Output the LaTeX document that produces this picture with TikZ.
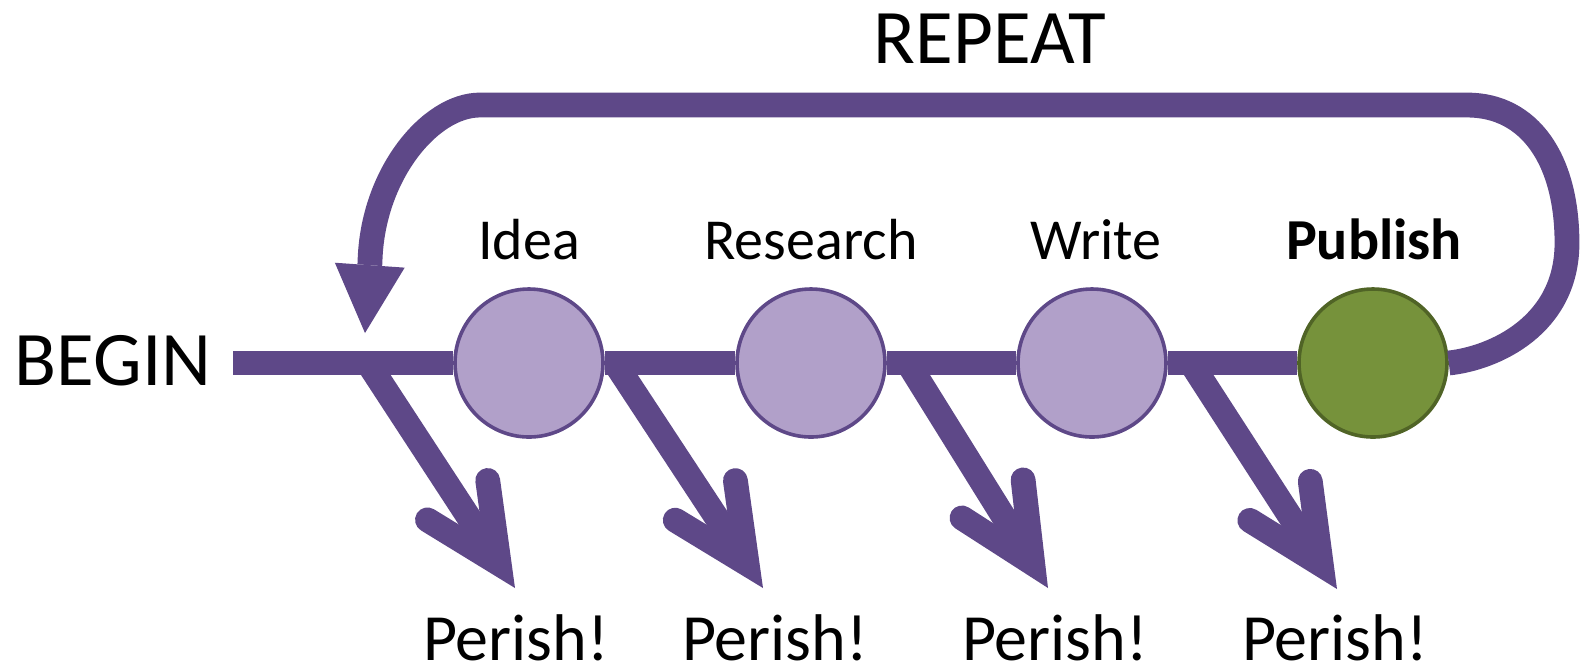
\documentclass[tikz,border=0pt]{standalone}
\usepackage{fontspec}
\setmainfont{Carlito}
\usetikzlibrary{arrows.meta}

\definecolor{flowpurple}{RGB}{94,72,136}
\definecolor{stagelilac}{RGB}{177,160,201}
\definecolor{pubgreen}{RGB}{118,146,59}
\definecolor{pubgreenedge}{RGB}{80,100,38}

\tikzset{every picture/.style={line width=0.75pt},
  flow/.style={draw=flowpurple,line width=6.2pt},
  perish arrow/.style={flow,-{Straight Barb[length=19pt,width=18pt,line cap=round,line join=miter]}},
  repeat arrow/.style={flow,-{Triangle[length=17pt,width=17.5pt,line width=0pt]}},
  stage/.style={circle,draw=flowpurple,fill=stagelilac,line width=0.9pt,minimum size=37pt,inner sep=0pt},
  stage label/.style={anchor=base,inner sep=0pt,font=\fontsize{14.5}{17}\selectfont},
  outcome/.style={anchor=base,inner sep=0pt,font=\fontsize{16.5}{20}\selectfont},
  big label/.style={anchor=base,inner sep=0pt,font=\fontsize{19.3}{23}\selectfont}}

\begin{document}
\begin{tikzpicture}[x=0.25pt,y=0.25pt,yscale=-1,xscale=1]
\useasboundingbox (0,0) rectangle (1589,668);

% Points on the main line and arrow ends
\coordinate (start) at (233,363);
\coordinate (b1) at (368,363);
\coordinate (b2) at (615,363);
\coordinate (b3) at (908,363);
\coordinate (b4) at (1191,363);
\coordinate (t1) at (515,588);
\coordinate (t2) at (763,588);
\coordinate (t3) at (1048,588);
\coordinate (t4) at (1337,589);
\coordinate (rbase) at (370,262);
\coordinate (rtip) at (365,333);

%Perish arrows
\draw[perish arrow] (b1) -- (t1);
\draw[perish arrow] (b2) -- (t2);
\draw[perish arrow] (b3) -- (t3);
\draw[perish arrow] (b4) -- (t4);

%Stages
\node[stage] (idea) at (529,363) {};
\node[stage] (research) at (811,363) {};
\node[stage] (write) at (1092,363) {};
\node[stage,draw=pubgreenedge,fill=pubgreen] (publish) at (1373,363) {};

%Main line
\draw[flow] (start) -- (idea.west);
\draw[flow] (idea.east) -- (research.west);
\draw[flow] (research.east) -- (write.west);
\draw[flow] (write.east) -- (publish.west);

%Repeat loop
\draw[repeat arrow] (publish.east) .. controls (1495,358) and (1567,325) .. (1567,243) .. controls (1567,160) and (1530,105) .. (1467,105) -- (480,105) .. controls (430,105) and (372,175) .. (rbase) -- (rtip);

% Text Node
\node[big label] (begin) at (113,385) {BEGIN};
% Text Node
\node[big label] (repeat) at (990,63) {REPEAT};
% Text Node
\node[stage label] (idealabel) at (529,259) {Idea};
% Text Node
\node[stage label] (researchlabel) at (811,259) {Research};
% Text Node
\node[stage label] (writelabel) at (1096,259) {Write};
% Text Node
\node[stage label] (publishlabel) at (1374,259) {\bfseries Publish};
% Text Node
\node[outcome] (perish1) at (516,660) {Perish!};
% Text Node
\node[outcome] (perish2) at (775,660) {Perish!};
% Text Node
\node[outcome] (perish3) at (1055,660) {Perish!};
% Text Node
\node[outcome] (perish4) at (1335,660) {Perish!};

\end{tikzpicture}
\end{document}
